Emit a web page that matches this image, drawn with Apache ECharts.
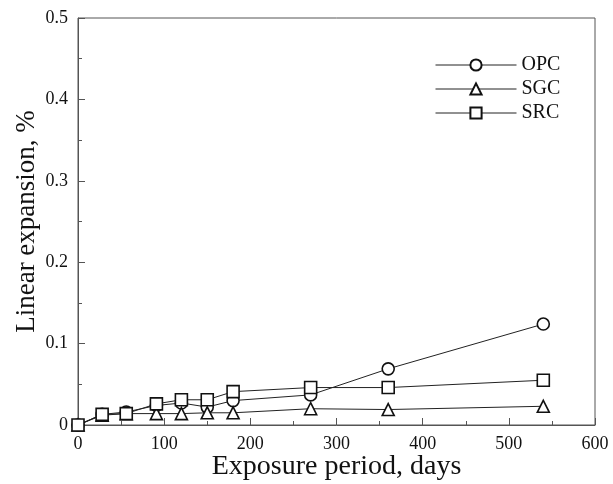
<!DOCTYPE html>
<html>
<head>
<meta charset="utf-8">
<script src="https://cdn.jsdelivr.net/npm/echarts@6/dist/echarts.min.js"></script>
<style>html,body{margin:0;padding:0;background:#fff}#c{width:613px;height:484px}</style>
</head>
<body>
<div id="c"></div>
<script>
const days = [0, 28, 56, 91, 120, 150, 180, 270, 360, 540];
const opc = [0, 0.013, 0.016, 0.024, 0.027, 0.022, 0.030, 0.037, 0.069, 0.124];
const sgc = [0, 0.012, 0.014, 0.014, 0.014, 0.015, 0.015, 0.020, 0.019, 0.023];
const src = [0, 0.013, 0.014, 0.026, 0.031, 0.031, 0.041, 0.046, 0.046, 0.055];
const seriesNames = ['OPC', 'SGC', 'SRC'];
const seriesSymbols = ['circle', 'triangle', 'rect'];
const xTicks = [0, 100, 200, 300, 400, 500, 600];
const yTicks = [0, 0.1, 0.2, 0.3, 0.4, 0.5];

const font = 'Liberation Serif';
const values = [opc, sgc, src];
const chart = echarts.init(document.getElementById('c'), null, {renderer: 'canvas'});
const series = seriesNames.map((n, i) => ({
  name: n,
  type: 'line',
  data: days.map((d, j) => [d, values[i][j]]),
  symbol: seriesSymbols[i],
  symbolSize: 12,
  showAllSymbol: true,
  lineStyle: {color: '#222', width: 1},
  itemStyle: {color: '#fff', borderColor: '#111', borderWidth: 1.6},
  emphasis: {disabled: true},
  animation: false,
  z: 3 + i
}));
chart.setOption({
  animation: false,
  grid: {left: 78, top: 18, right: 18, bottom: 59, show: true, borderColor: '#555', borderWidth: 1,
    containLabel: false, outerBoundsMode: 'none'},
  legend: {
    orient: 'vertical', left: 430, top: 50, itemWidth: 81, itemHeight: 14, itemGap: 4,
    lineStyle: {width: 1, color: '#222'},
    textStyle: {fontFamily: font, fontSize: 20, lineHeight: 20, color: '#111'},
    data: seriesNames
  },
  xAxis: {
    type: 'value', min: xTicks[0], max: xTicks[xTicks.length - 1], interval: 100,
    name: 'Exposure period, days', nameLocation: 'middle', nameGap: 28, nameMoveOverlap: false,
    nameTextStyle: {fontFamily: font, fontSize: 28, color: '#111'},
    axisLine: {lineStyle: {color: '#555'}},
    axisTick: {inside: true, length: 7, lineStyle: {color: '#555'}},
    minorTick: {show: true, splitNumber: 2, length: 4, lineStyle: {color: '#555'}},
    axisLabel: {fontFamily: font, fontSize: 18, color: '#111', margin: 10},
    splitLine: {show: false}
  },
  yAxis: {
    type: 'value', min: yTicks[0], max: yTicks[yTicks.length - 1], interval: 0.1,
    name: 'Linear expansion, %', nameLocation: 'middle', nameGap: 38, nameMoveOverlap: false,
    nameTextStyle: {fontFamily: font, fontSize: 27, color: '#111'},
    axisLine: {show: true, lineStyle: {color: '#555'}},
    axisTick: {show: true, inside: true, length: 7, lineStyle: {color: '#555'}},
    minorTick: {show: true, splitNumber: 2, length: 4, lineStyle: {color: '#555'}},
    axisLabel: {fontFamily: font, fontSize: 18, color: '#111', margin: 10,
      formatter: v => v === 0 ? '0' : v.toFixed(1)},
    splitLine: {show: false}
  },
  series: series
});
</script>
</body>
</html>
